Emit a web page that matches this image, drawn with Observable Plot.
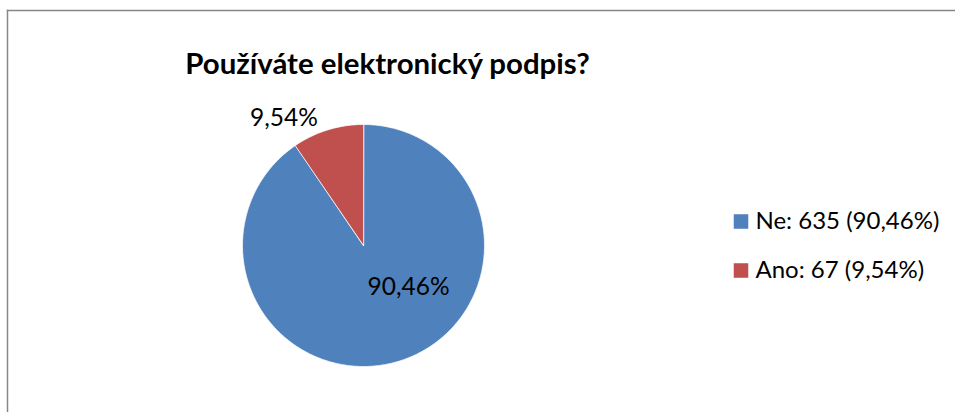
<!DOCTYPE html>
<html>
<head>
<meta charset="utf-8">
<script src="https://cdn.jsdelivr.net/npm/d3@7"></script>
<script src="https://cdn.jsdelivr.net/npm/@observablehq/plot@0.6"></script>
<style>
  html, body { margin: 0; padding: 0; background: #ffffff; }
  #chart svg { display: block; }
</style>
</head>
<body>
<div id="chart"></div>
<script>
// ---- data ----
const chartTitle = "Používáte elektronický podpis?";
const categories = ["Ne", "Ano"];
const counts = [635, 67];
const percentLabels = ["90,46%", "9,54%"];
const legendLabels = ["Ne: 635 (90,46%)", "Ano: 67 (9,54%)"];
const sliceColors = ["#4F81BD", "#C0504D"];

// ---- layout ----
const W = 955, H = 412;
const cx = 363, cy = 245, R = 121;
const FONT = "Lato, 'Open Sans', sans-serif";

// pie geometry (d3.pie angles: 0 at 12 o'clock, clockwise)
const arcs = d3.pie().sort(null).value(d => d)(counts);
const slicePoints = [];
arcs.forEach((a, i) => {
  const n = Math.max(4, Math.ceil((a.endAngle - a.startAngle) / 0.01));
  slicePoints.push({cat: categories[i], x: 0, y: 0});
  for (let k = 0; k <= n; k++) {
    const t = a.startAngle + (a.endAngle - a.startAngle) * k / n;
    slicePoints.push({cat: categories[i], x: Math.sin(t), y: Math.cos(t)});
  }
});

// label placement (polar: angle in degrees clockwise from top, radius in units of R)
const labelPlacement = [{angle: 133, rho: 0.51}, {angle: 328, rho: 1.24}];
const labelData = percentLabels.map((txt, i) => {
  const t = labelPlacement[i].angle * Math.PI / 180;
  return {txt, x: labelPlacement[i].rho * Math.sin(t), y: labelPlacement[i].rho * Math.cos(t)};
});

const labelSize = 24.5;
const titleSize = 29.4;
const legendSize = 24;

const marks = [
  Plot.frame({anchor: "top", insetLeft: 7, insetTop: 10, stroke: "#878787", strokeWidth: 1.5}),
  Plot.frame({anchor: "left", insetLeft: 7, insetTop: 10, stroke: "#878787", strokeWidth: 1.5}),
  Plot.line(slicePoints, {x: "x", y: "y", z: "cat", fill: "cat", stroke: "white", strokeWidth: 0.75, curve: "linear-closed"}),
  Plot.text(labelData, {x: "x", y: "y", text: "txt", fontSize: labelSize, fill: "#000", lineAnchor: "middle"}),
  Plot.text([chartTitle], {frameAnchor: "top-left", dx: 387, dy: 73 - 0.32 * titleSize, text: d => d, textAnchor: "middle", lineAnchor: "middle", fontSize: titleSize, fontWeight: "bold", fill: "#000"})
];
legendLabels.forEach((lab, i) => {
  marks.push(Plot.dot([categories[i]], {frameAnchor: "top-left", dx: 740.5, dy: 221 + i * 49, symbol: "square", r: 8.2, fill: d => d, stroke: null}));
  marks.push(Plot.text([lab], {frameAnchor: "top-left", dx: 755, dy: 221 + i * 49, text: d => d, textAnchor: "start", lineAnchor: "middle", fontSize: legendSize, fill: "#000"}));
});

const chart = Plot.plot({
  width: W, height: H,
  margin: 0,
  style: {fontFamily: FONT, background: "#ffffff", overflow: "visible"},
  x: {domain: [-cx / R, (W - cx) / R], axis: null},
  y: {domain: [(cy - H) / R, cy / R], axis: null},
  color: {domain: categories, range: sliceColors},
  marks
});
document.getElementById("chart").appendChild(chart);
</script>
</body>
</html>
